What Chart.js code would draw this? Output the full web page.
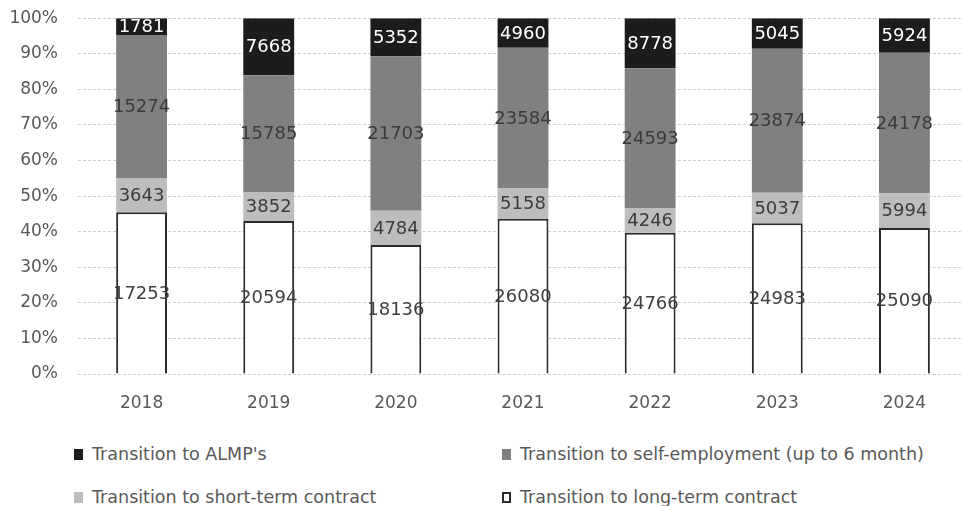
<!DOCTYPE html>
<html>
<head>
<meta charset="utf-8">
<title>Transitions by year</title>
<script src="https://cdn.jsdelivr.net/npm/chart.js@4.4.1/dist/chart.umd.min.js"></script>
<style>
  html, body { margin: 0; padding: 0; background: #ffffff; overflow: hidden; }
  #wrap { position: relative; width: 962px; height: 506px; overflow: hidden; }
  #chart { position: absolute; left: 0; top: -12px; }
  .legend-item {
    position: absolute; display: flex; align-items: center;
    font-family: "DejaVu Sans", sans-serif; font-size: 17.5px; color: #595959;
    white-space: nowrap; line-height: 20px;
  }
  .legend-box { display: inline-block; width: 9px; height: 11px; margin-right: 9px; box-sizing: border-box; }
</style>
</head>
<body>
<div id="wrap">
  <canvas id="chart" width="968" height="444"></canvas>
  <div id="legend"></div>
</div>
<script>
// Categories and counts per transition type
const years = ['2018', '2019', '2020', '2021', '2022', '2023', '2024'];
const longTerm = [17253, 20594, 18136, 26080, 24766, 24983, 25090];
const shortTerm = [3643, 3852, 4784, 5158, 4246, 5037, 5994];
const selfEmployment = [15274, 15785, 21703, 23584, 24593, 23874, 24178];
const almp = [1781, 7668, 5352, 4960, 8778, 5045, 5924];

const seriesNames = [
  'Transition to long-term contract',
  'Transition to short-term contract',
  'Transition to self-employment (up to 6 month)',
  "Transition to ALMP's"
];
const seriesCounts = [longTerm, shortTerm, selfEmployment, almp];

// Totals per year, used to turn counts into shares of 100%
const totals = years.map((_, i) => seriesCounts.reduce((s, arr) => s + arr[i], 0));
const shares = arr => arr.map((v, i) => v / totals[i] * 100);

const fills = ['#ffffff', '#bdbdbd', '#808080', '#1c1c1c'];
const labelColors = ['#404040', '#3c3c3c', '#3a3a3a', '#ffffff'];

const datasets = seriesCounts.map((arr, k) => ({
  label: seriesNames[k],
  data: shares(arr),
  counts: arr,
  backgroundColor: fills[k],
  borderColor: k === 0 ? '#2a2a2a' : fills[k],
  borderWidth: k === 0 ? 2 : 0,
  barPercentage: 0.4,
  categoryPercentage: 1.0
}));

// Writes the raw count in the middle of every segment
const countLabels = {
  id: 'countLabels',
  afterDatasetsDraw(chart) {
    const ctx = chart.ctx;
    ctx.save();
    ctx.font = '18px "DejaVu Sans", sans-serif';
    ctx.textAlign = 'center';
    ctx.textBaseline = 'middle';
    chart.data.datasets.forEach((ds, k) => {
      const meta = chart.getDatasetMeta(k);
      meta.data.forEach((bar, i) => {
        const y = (bar.y + bar.base) / 2;
        ctx.fillStyle = labelColors[k];
        ctx.fillText(String(ds.counts[i]), bar.x, y + 1);
      });
    });
    ctx.restore();
  }
};

const tickFont = { family: '"DejaVu Sans", sans-serif', size: 17 };

new Chart(document.getElementById('chart'), {
  type: 'bar',
  data: { labels: years, datasets },
  options: {
    responsive: false,
    animation: false,
    devicePixelRatio: 1,
    layout: { padding: { top: 6, right: 0, bottom: 0, left: 0 } },
    plugins: {
      legend: { display: false },
      tooltip: { enabled: false }
    },
    scales: {
      x: {
        stacked: true,
        grid: { display: false, drawTicks: false },
        border: { display: false },
        ticks: { color: '#595959', font: tickFont, padding: 19 },
        afterFit(scale) { scale.height = 58; }
      },
      y: {
        stacked: true,
        min: 0,
        max: 100,
        grid: { color: '#d4ccd4', lineWidth: 1, drawTicks: false },
        border: { display: false, dash: [3, 2] },
        ticks: {
          stepSize: 10,
          color: '#595959',
          font: tickFont,
          padding: 20,
          callback: v => v + '%'
        },
        afterFit(scale) { scale.width = 78; }
      }
    }
  },
  plugins: [countLabels]
});

// Two-column legend below the plot, top row first
const legendOrder = [3, 2, 1, 0];
const legendSpots = [[74, 444], [502, 444], [74, 487], [502, 487]];
const legendEl = document.getElementById('legend');
legendOrder.forEach((k, n) => {
  const item = document.createElement('div');
  item.className = 'legend-item';
  item.style.left = legendSpots[n][0] + 'px';
  item.style.top = legendSpots[n][1] + 'px';
  const box = document.createElement('span');
  box.className = 'legend-box';
  box.style.background = fills[k];
  if (k === 0) box.style.border = '2px solid #2a2a2a';
  const text = document.createElement('span');
  text.textContent = seriesNames[k];
  item.appendChild(box);
  item.appendChild(text);
  legendEl.appendChild(item);
});
</script>
</body>
</html>
